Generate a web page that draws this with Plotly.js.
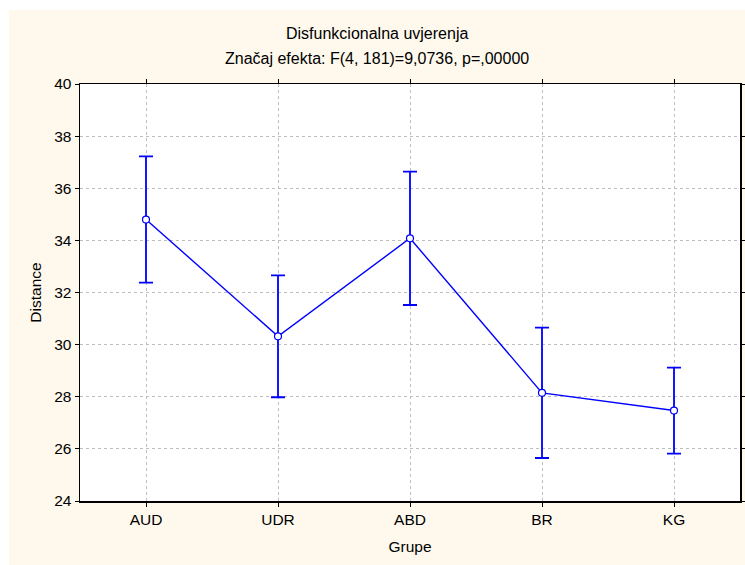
<!DOCTYPE html>
<html>
<head>
<meta charset="utf-8">
<script src="https://cdn.plot.ly/plotly-3.0.1.min.js"></script>
<style>
html,body{margin:0;padding:0;background:#ffffff;}
#chart{position:absolute;left:9px;top:10px;width:736px;height:555px;}
</style>
</head>
<body>
<div id="chart"></div>
<script>
var groups = ["AUD", "UDR", "ABD", "BR", "KG"];
var means = [34.8, 30.32, 34.08, 28.15, 27.47];
var errors = [2.42, 2.34, 2.56, 2.5, 1.65];
var yTicks = [24, 26, 28, 30, 32, 34, 36, 38, 40];
var titleLine1 = "Disfunkcionalna uvjerenja";
var titleLine2 = "Značaj efekta: F(4, 181)=9,0736, p=,00000";

var trace = {
  x: groups,
  y: means,
  type: "scatter",
  mode: "lines+markers",
  line: {color: "#0000ff", width: 1.4},
  marker: {symbol: "circle", size: 7, color: "#ffffff", line: {color: "#0000ff", width: 1.2}},
  error_y: {type: "data", array: errors, visible: true, color: "#0000ff", thickness: 1.8, width: 7},
  hoverinfo: "none"
};

var fnt = {family: "Liberation Sans, Arial, sans-serif", size: 16, color: "#000000"};
var tfnt = {family: "Liberation Sans, Arial, sans-serif", size: 15.5, color: "#000000"};

var layout = {
  width: 736,
  height: 555,
  paper_bgcolor: "#fff9ed",
  plot_bgcolor: "#ffffff",
  margin: {l: 71, r: 5, t: 74, b: 64},
  showlegend: false,
  font: fnt,
  xaxis: {
    type: "category",
    range: [-0.5, 4.5],
    showgrid: true,
    gridcolor: "#bdbdbd",
    griddash: "dot",
    gridwidth: 1,
    showline: true,
    linecolor: "#000000",
    linewidth: 1.5,
    mirror: "ticks",
    ticks: "outside",
    ticklen: 4,
    tickcolor: "#000000",
    tickfont: tfnt,
    zeroline: false,
    title: {text: "Grupe", font: tfnt, standoff: 14}
  },
  yaxis: {
    range: [24, 40],
    tickvals: yTicks,
    ticktext: yTicks.map(String),
    showgrid: true,
    gridcolor: "#bdbdbd",
    griddash: "dot",
    gridwidth: 1,
    showline: true,
    linecolor: "#000000",
    linewidth: 1.5,
    mirror: "ticks",
    ticks: "outside",
    ticklen: 4,
    tickcolor: "#000000",
    tickfont: tfnt,
    zeroline: false,
    title: {text: "Distance", font: tfnt, standoff: 8}
  },
  annotations: [
    {text: titleLine1, xref: "paper", yref: "paper", x: 0.45, y: 1.12, xanchor: "center", yanchor: "middle", showarrow: false, font: fnt},
    {text: titleLine2, xref: "paper", yref: "paper", x: 0.45, y: 1.06, xanchor: "center", yanchor: "middle", showarrow: false, font: fnt}
  ]
};

Plotly.newPlot("chart", [trace], layout, {staticPlot: true, displayModeBar: false});
</script>
</body>
</html>
